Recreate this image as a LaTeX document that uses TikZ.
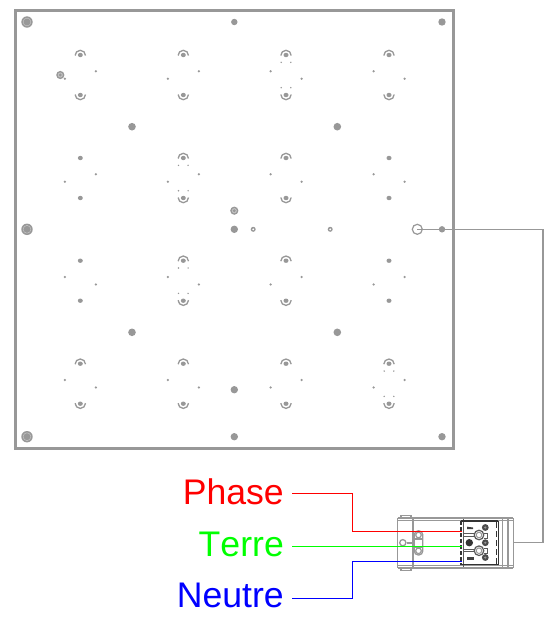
\documentclass[tikz,border=0pt]{standalone}
\usepackage{fontspec}
\setmainfont[Kerning=Off]{Liberation Sans}
\definecolor{pg}{HTML}{989898}
\definecolor{pgl}{HTML}{C4C4C4}
\definecolor{pgd}{HTML}{5A5A5A}
\definecolor{phasec}{HTML}{FF0000}
\definecolor{terrec}{HTML}{00FF00}
\definecolor{neutrec}{HTML}{0000FF}
\tikzset{
  panelframe/.style={draw=pg,line width=2.6pt,fill=white},
  hw/.style={draw=pg,line width=1.2pt},
  lab/.style={font=\fontsize{35.6}{36}\selectfont,anchor=base east,inner sep=0pt},
  wire/.style={line width=1pt},
  tb/.style={draw=pgd,line width=1pt},
  tbk/.style={draw=black!80,line width=1pt},
}
\newcommand{\PairDots}[2]{
  \fill[pg] (#1,#2-20) ellipse (2.5 and 2.2);
  \fill[pg] (#1,#2+20) ellipse (2.5 and 2.2);
}
\newcommand{\PairArcs}[2]{
  \PairDots{#1}{#2}
  \draw[hw,line width=1.3pt] (#1+5.2,#2-19.5) arc[start angle=0,end angle=-180,radius=5.2];
  \draw[hw,line width=1.3pt] (#1+5.2,#2+19.5) arc[start angle=0,end angle=180,radius=5.2];
}
\newcommand{\FourTiny}[2]{
  \foreach \sx in {-4.8,4.8}{\foreach \sy in {-12.7,12.7}{
    \fill[pg] (#1+\sx,#2+\sy) circle (.8);}}
}
\newcommand{\SideDots}[3]{
  \fill[pg] (#1-15.4,#2+#3*3.7) circle (1.25);
  \fill[pg] (#1+15.6,#2-#3*3.7) circle (1.25);
}
\newcommand{\Ring}[3]{
  \fill[pg] (#1,#2) circle (#3);
  \fill[pgl] (#1,#2) circle (#3*.62);
  \fill[pg] (#1,#2) circle (#3*.4);
}
\begin{document}
\begin{tikzpicture}[x=1pt,y=-1pt]
\useasboundingbox (0,0) rectangle (549,619);
\fill[white] (0,0) rectangle (549,619);

\node[panelframe,minimum width=438pt,minimum height=438pt,inner sep=0pt] (panel) at (234.3,229.3) {};

\foreach \cx/\cy/\kind/\side in {
 80.3/75/A/1,183.3/75/A/1,286/75/A/-1,389/75/A/-1,
 80.3/178/P/1,183.3/178/A/1,286/178/A/-1,389/178/P/-1,
 80.3/280.7/P/-1,183.3/280.7/A/-1,286/280.7/A/1,389/280.7/P/1,
 80.3/383.7/A/-1,183.3/383.7/A/-1,286/383.7/A/1,389/383.7/A/1}{
  \if\kind A \PairArcs{\cx}{\cy}\else \PairDots{\cx}{\cy}\fi
  \SideDots{\cx}{\cy}{\side}
}
\FourTiny{286}{75}
\FourTiny{183.3}{178}
\FourTiny{183.3}{280.7}
\FourTiny{389}{383.7}

\foreach \px/\py in {132/126.7,337.3/126.7,132/332.3,337.3/332.3}{\fill[pg] (\px,\py) circle (3.8);}
\foreach \px/\py in {234.3/229.3,234.3/436.7,234.3/389.7,442/436.7}{\fill[pg] (\px,\py) circle (3.7);}
\foreach \px/\py in {234.3/22,442/229.3}{\fill[pg] (\px,\py) circle (3.2);}
\fill[pg] (442,22) circle (3.7);
\foreach \px/\py in {27/22,27/229.3,27/436.7}{
  \fill[pg] (\px,\py) circle (5.7);
  \draw[pgl,line width=.5pt] (\px,\py) circle (3.9);
}
\foreach \px/\py in {234.3/210.7,60.3/75}{\Ring{\px}{\py}{4.1}}
\foreach \px/\py in {253.2/229.3,330.2/229.3}{
  \fill[pg] (\px,\py) circle (2.5);
  \fill[white] (\px,\py) circle (1);
}

\node[draw=pg,line width=1.2pt,circle,minimum size=10pt,inner sep=0pt] (hole) at (417.3,229.3) {};

\node[inner sep=0pt,minimum width=116pt,minimum height=50pt] (driver) at (455.3,542.8) {};
\coordinate (corner) at (543,229.3);
\coordinate (corner2) at (543,542.8);
\draw[hw] (hole.center) -- (corner) -- (corner2) -- (driver.east);

% body rails
\foreach \yy in {518,520.8,565.2,568}{\draw[hw] (397.5,\yy) -- (513.3,\yy);}
\draw[hw] (397.5,518) -- (397.5,568);
\draw[hw,line width=1.4pt] (413,518) -- (413,568);
\draw[hw] (502.5,518) -- (502.5,568);
\draw[hw] (508,518) -- (508,568);
\draw[hw] (513.3,518) -- (513.3,568);
% tabs
\draw[hw,line width=1.5pt] (400.8,518) -- (400.8,515.5) -- (411,515.5) -- (411,518);
\draw[hw,line width=1.5pt] (400.8,568) -- (400.8,570.5) -- (411,570.5) -- (411,568);
% screw and slot
\fill[white] (398.2,522) rectangle (412.3,564.5);
\draw[hw,line width=1.3pt] (402.8,542.7) circle (3.1);
\draw[hw,line width=2.2pt] (406.5,542.7) -- (414,542.7);
\draw[hw,line width=1.3pt,rounded corners=4pt] (414.3,530.8) rectangle (422.8,555);
\draw[hw] (418.5,535) circle (2.8);
\draw[hw] (418.5,550.8) circle (2.8);
\draw[hw] (415,539) -- (422.5,539);
\draw[hw] (415,547) -- (422.5,547);

% terminal block
\fill[white] (461,521) rectangle (498.3,564.5);
\draw[tb] (463.3,519) -- (463.3,567);
\draw[tbk,line width=1.1pt] (461,521) -- (498.3,521);
\draw[tbk,line width=1.1pt] (461,564.5) -- (498.3,564.5);
\draw[tbk,line width=1.1pt] (498.3,521) -- (498.3,564.5);
\draw[tbk,line width=1.6pt,dash pattern=on 4pt off 2pt] (461,521) -- (461,564.5);
\draw[tbk,line width=1.4pt,dash pattern=on 6pt off 3pt] (496.3,522) -- (496.3,564);
\draw[tb] (464,533.3) -- (475,533.3);
\draw[tb] (464,536) -- (475,536);
\draw[tb] (464,551.7) -- (475,551.7);
\draw[tb] (464,549) -- (475,549);
\fill[black!75] (467,526.7) -- (473,527.5) -- (473,529) -- (467,529) -- cycle;
\fill[black!75] (467,556.5) rectangle (473.5,560);
\fill[black!80] (469.3,542.7) circle (3.7);
\draw[tb,line width=1.2pt] (479,535) circle (4.8);
\draw[tb,line width=1.2pt] (479,550.7) circle (4.8);
\draw[draw=pg,line width=1pt] (479,535) circle (2.8);
\draw[draw=pg,line width=1pt] (479,550.7) circle (2.8);
\foreach \yy in {527.5,542.7,557.5}{
  \fill[black!70] (485.3,\yy) circle (3.4);
  \fill[pg] (485.3,\yy) circle (1.2);
}
\draw[tb] (484,533) -- (487.5,533) -- (487.5,538) -- (484,538);
\draw[tb] (484,548) -- (487.5,548) -- (487.5,553) -- (484,553);

% labels
\node[lab,text=phasec] (phase) at (284,504.5) {Phase};
\node[lab,text=terrec] (terre) at (284,556.5) {Terre};
\node[lab,text=neutrec] (neutre) at (284,607) {Neutre};

\coordinate (po) at (292,493.5);
\coordinate (to) at (292,546.3);
\coordinate (no) at (292,598);
\coordinate (pb) at (352,493.5);
\coordinate (nb) at (352,598);
\coordinate (pc) at (352,531);
\coordinate (nc) at (352,561.7);
\coordinate (pe) at (461.5,531);
\coordinate (te) at (461.5,546.3);
\coordinate (ne) at (461.5,561.7);
\draw[wire,phasec] (po) -- (pb) -- (pc) -- (pe);
\draw[wire,terrec] (to) -- (te);
\draw[wire,neutrec] (no) -- (nb) -- (nc) -- (ne);
\end{tikzpicture}
\end{document}
